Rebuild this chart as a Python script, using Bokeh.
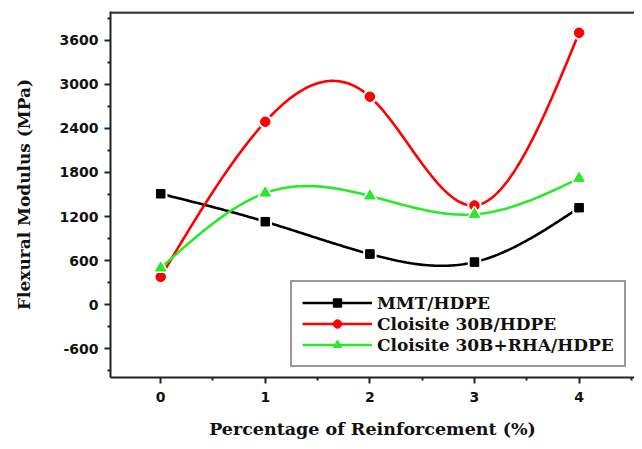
import numpy as np
from bokeh.plotting import figure
from bokeh.models import (Range1d, Legend, LegendItem, Span, FixedTicker, ColumnDataSource,
                          PrintfTickFormatter)
from bokeh.embed import file_html
from bokeh.resources import INLINE

# ---- data ----
reinforcement = [0, 1, 2, 3, 4]
mmt_hdpe = [1510, 1130, 690, 580, 1320]
cloisite_hdpe = [380, 2490, 2830, 1350, 3700]
cloisite_rha_hdpe = [500, 1520, 1480, 1230, 1720]
series_names = ["MMT/HDPE", "Cloisite 30B/HDPE", "Cloisite 30B+RHA/HDPE"]
y_ticks = [-600, 0, 600, 1200, 1800, 2400, 3000, 3600]
x_ticks = [0, 1, 2, 3, 4]


def natural_spline(x, y, n=200):
    x = np.asarray(x, float)
    y = np.asarray(y, float)
    k = len(x)
    h = np.diff(x)
    A = np.zeros((k, k))
    b = np.zeros(k)
    A[0, 0] = 1
    A[-1, -1] = 1
    for i in range(1, k - 1):
        A[i, i - 1] = h[i - 1]
        A[i, i] = 2 * (h[i - 1] + h[i])
        A[i, i + 1] = h[i]
        b[i] = 6 * ((y[i + 1] - y[i]) / h[i] - (y[i] - y[i - 1]) / h[i - 1])
    M = np.linalg.solve(A, b)
    xs = np.linspace(x[0], x[-1], n)
    ys = np.empty_like(xs)
    for j, xv in enumerate(xs):
        i = min(np.searchsorted(x, xv, side="right") - 1, k - 2)
        hi = h[i]
        a = (x[i + 1] - xv) / hi
        c = (xv - x[i]) / hi
        ys[j] = (a * y[i] + c * y[i + 1]
                 + ((a ** 3 - a) * M[i] + (c ** 3 - c) * M[i + 1]) * hi * hi / 6)
    return xs, ys


p = figure(width=634, height=441, output_backend="svg", toolbar_location=None,
           x_range=Range1d(-0.48, 4.53), y_range=Range1d(-990, 3990),
           min_border_left=110, min_border_top=11, min_border_right=0,
           min_border_bottom=55)
p.grid.visible = False
p.outline_line_color = None
p.background_fill_color = "white"

colors = ["#000000", "#ff0000", "#2ae82a"]
data = [mmt_hdpe, cloisite_hdpe, cloisite_rha_hdpe]
items = []
for name, ys, col, mk in zip(series_names, data, colors, ["square", "circle", "triangle"]):
    sx, sy = natural_spline(reinforcement, ys)
    r1 = p.line(sx, sy, line_color=col, line_width=2.6)
    size = {"square": 11, "circle": 12, "triangle": 13}[mk]
    src = ColumnDataSource(dict(x=reinforcement, y=ys))
    p.scatter("x", "y", source=src, marker=mk, size=size, fill_color=col,
              line_color="white", line_width=2.5)
    r3 = p.scatter("x", "y", source=src, marker=mk, size=size - 2.5, fill_color=col,
                   line_color=col, line_width=1)
    items.append(LegendItem(label=name, renderers=[r1, r3]))

legend = Legend(items=items, location=(180, 10), orientation="vertical",
                glyph_width=70, glyph_height=21, label_height=21, spacing=0,
                padding=10, margin=0, label_standoff=5,
                label_text_font="DejaVu Serif", label_text_font_style="bold",
                label_text_font_size="17px", label_text_color="#111111",
                border_line_color="#333333", border_line_width=2,
                background_fill_color="white", background_fill_alpha=1)
p.add_layout(legend, "center")

# top border line
p.add_layout(Span(location=3975, dimension="width", line_color="#333333", line_width=2.5))

for ax in (p.xaxis[0], p.yaxis[0]):
    ax.axis_line_width = 2
    ax.axis_line_color = "#222222"
    ax.major_tick_line_color = "#222222"
    ax.major_tick_line_width = 2
    ax.major_tick_out = 6
    ax.major_tick_in = 0
    ax.minor_tick_line_color = "#222222"
    ax.minor_tick_line_width = 2
    ax.minor_tick_out = 3
    ax.minor_tick_in = 0
    ax.major_label_text_font = "DejaVu Sans"
    ax.major_label_text_font_style = "bold"
    ax.major_label_text_font_size = "14px"
    ax.major_label_text_color = "#111111"
    ax.axis_label_text_font = "DejaVu Serif"
    ax.axis_label_text_font_style = "bold"
    ax.axis_label_text_color = "#111111"

p.xaxis.axis_label_text_font_size = "17.5px"
p.yaxis.axis_label_text_font_size = "17px"
p.xaxis.ticker = FixedTicker(ticks=x_ticks, minor_ticks=[-0.5, 0.5, 1.5, 2.5, 3.5, 4.5])
p.yaxis.ticker = FixedTicker(ticks=y_ticks,
                             minor_ticks=[v + 300 for v in [-1200] + y_ticks])
p.yaxis.formatter = PrintfTickFormatter(format="%d")
p.xaxis.axis_label = "Percentage of Reinforcement (%)"
p.yaxis.axis_label = "Flexural Modulus (MPa)"
p.xaxis.major_label_standoff = 8
p.xaxis.axis_label_standoff = 14
p.yaxis.major_label_standoff = 6
p.yaxis.axis_label_standoff = 23

open("out.html", "w").write(file_html(p, INLINE))
